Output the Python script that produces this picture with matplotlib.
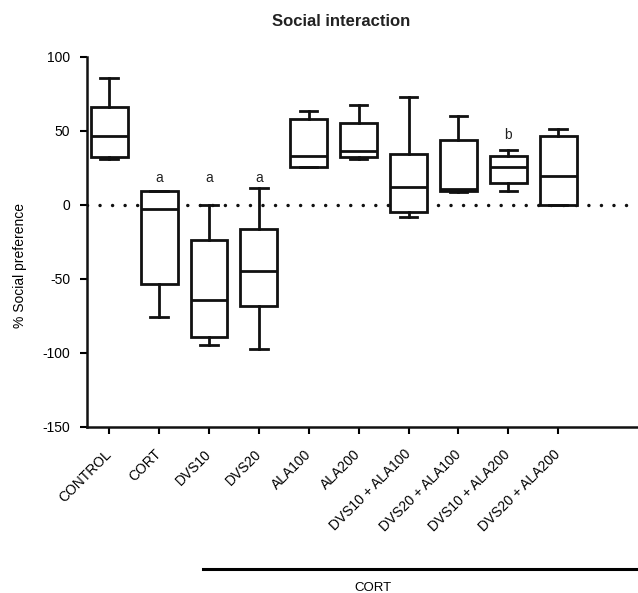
import matplotlib.pyplot as plt
from matplotlib.lines import Line2D

plt.rcParams['font.family'] = ['Liberation Sans', 'DejaVu Sans']
plt.rcParams['axes.unicode_minus'] = False

groups = ['CONTROL', 'CORT', 'DVS10', 'DVS20', 'ALA100', 'ALA200',
          'DVS10 + ALA100', 'DVS20 + ALA100', 'DVS10 + ALA200', 'DVS20 + ALA200']
whis_lo = [31.3, -75.6, -94.8, -97.0, 25.3, 31.2, -8.4, 9.0, 9.3, 0.0]
q1 = [32.7, -53.7, -89.2, -68.2, 25.7, 32.7, -4.5, 9.5, 14.7, 0.0]
medians = [46.4, -2.9, -64.3, -44.5, 33.0, 36.3, 12.4, 11.0, 25.5, 19.6]
q3 = [66.4, 9.5, -23.7, -16.5, 58.0, 55.3, 34.3, 43.6, 33.4, 46.5]
whis_hi = [85.6, 9.5, 0.0, 11.3, 63.4, 67.5, 72.9, 60.0, 37.0, 51.2]

letters = {1: 'a', 2: 'a', 3: 'a', 8: 'b'}
letter_y = {1: 18, 2: 18, 3: 18, 8: 47}

stats = []
for i, g in enumerate(groups):
    stats.append(dict(label=g, whislo=whis_lo[i], q1=q1[i], med=medians[i],
                      q3=q3[i], whishi=whis_hi[i], fliers=[]))

fig = plt.figure(figsize=(6.38, 5.93), dpi=100)
ax = fig.add_axes([0.136, 0.28, 0.864, 0.624])

lw = 2.0
# dotted zero line (dots ~12 px apart)
ax.axhline(0, color='#111111', linestyle=(0, (0.01, 3.6)), linewidth=2.5,
           dash_capstyle='round', zorder=1)
ax.bxp(stats, positions=range(len(groups)), widths=0.74, showfliers=False,
       patch_artist=True,
       boxprops=dict(facecolor='white', edgecolor='#111111', linewidth=lw),
       medianprops=dict(color='#111111', linewidth=lw),
       whiskerprops=dict(color='#111111', linewidth=lw),
       capprops=dict(color='#111111', linewidth=lw),
       capwidths=0.35, zorder=3)

for i, t in letters.items():
    ax.text(i, letter_y[i], t, ha='center', va='center', fontsize=10, color='#222222')

ax.set_xlim(-0.45, 10.6)
ax.set_ylim(-150, 100)
ax.set_yticks([-150, -100, -50, 0, 50, 100])
ax.set_xticks(range(len(groups)))
ax.set_xticklabels(groups, rotation=45, ha='right', va='center',
                   rotation_mode='anchor', fontsize=10)
ax.tick_params(axis='y', labelsize=10, length=5, width=1.5, direction='out', pad=7)
ax.tick_params(axis='x', length=5, width=1.5, direction='out', pad=13)
for s in ['top', 'right']:
    ax.spines[s].set_visible(False)
for s in ['left', 'bottom']:
    ax.spines[s].set_linewidth(1.8)
    ax.spines[s].set_color('#111111')

ax.set_ylabel('% Social preference', fontsize=10)
ax.yaxis.set_label_coords(-0.108, 0.435)
fig.text(341 / 638, 1 - 21 / 593, 'Social interaction', ha='center', va='center',
         fontsize=12, fontweight='bold', color='#222222')

# CORT bracket under the treated groups
fig.add_artist(Line2D([203 / 638, 1.0], [1 - 569 / 593, 1 - 569 / 593],
                      color='black', linewidth=2.2))
fig.text(373 / 638, 1 - 588 / 593, 'CORT', ha='center', va='center', fontsize=9.5)

fig.savefig('out.png', dpi=100)
